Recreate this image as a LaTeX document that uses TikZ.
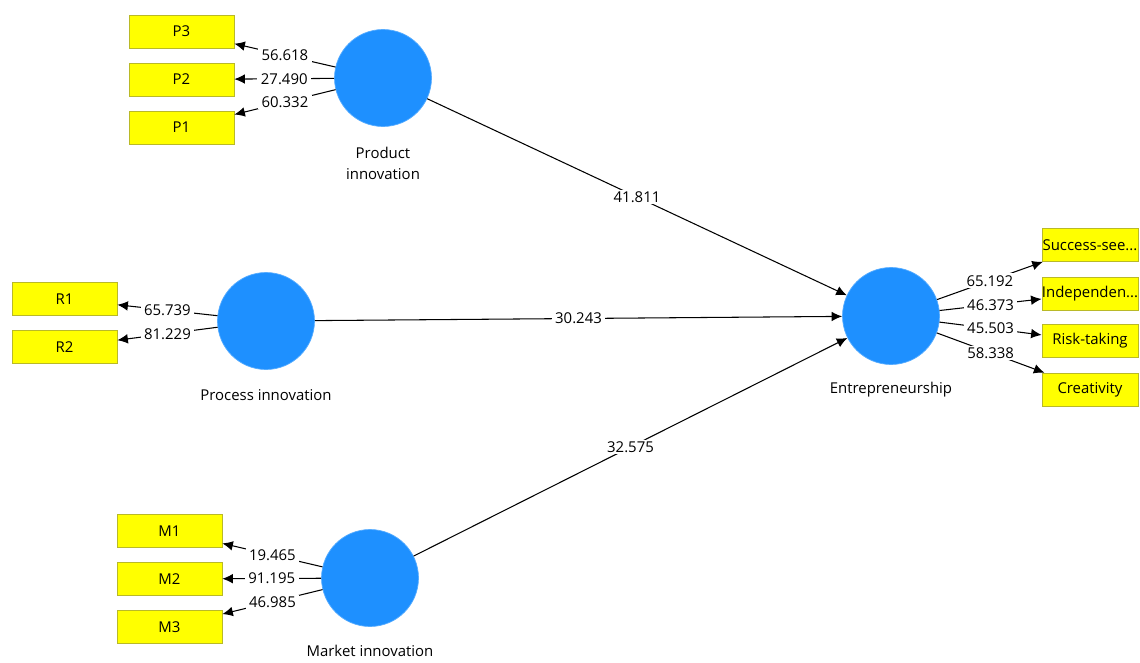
\documentclass[tikz,border=0pt]{standalone}
\usepackage{fontspec}
\setmainfont{Open Sans}
\usetikzlibrary{arrows.meta}
\definecolor{lvblue}{RGB}{30,144,255}
\definecolor{mvyellow}{RGB}{255,255,0}
\definecolor{mvedge}{RGB}{185,185,40}

\begin{document}
\begin{tikzpicture}[x=0.02cm,y=-0.02cm,
  font=\fontsize{8.5}{12}\selectfont,
  latent/.style={circle,fill=lvblue,draw=lvblue!75!white,minimum size=1.94cm,inner sep=0pt},
  item/.style={rectangle,fill=mvyellow,draw=mvedge,minimum width=2.1cm,minimum height=0.66cm,inner sep=0pt},
  itemr/.style={item,minimum width=1.92cm},
  load/.style={-{Latex[length=6pt,width=5.5pt]},line width=0.6pt},
  coef/.style={fill=white,inner xsep=2pt,inner ysep=1pt,midway}]
\useasboundingbox (0,0) rectangle (1140,663);

% latent variables
\node[latent] (prod) at (383,78) {};
\node[latent] (proc) at (266,321) {};
\node[latent] (mark) at (370,578) {};
\node[latent] (entr) at (891,316) {};

\node[align=center] (prodlbl) at (383,163) {Product\\innovation};
\node (proclbl) at (266,395) {Process innovation};
\node (marklbl) at (370,651) {Market innovation};
\node (entrlbl) at (891,390) {Entrepreneurship};

% indicators
\node[item] (p3) at (181.5,31.5) {P3};
\node[item] (p2) at (181.5,79.5) {P2};
\node[item] (p1) at (181.5,127.5) {P1};

\node[item] (r1) at (64.5,299) {R1};
\node[item] (r2) at (64.5,347) {R2};

\node[item] (m1) at (169.5,531) {M1};
\node[item] (m2) at (169.5,579) {M2};
\node[item] (m3) at (169.5,627) {M3};

\node[itemr] (e1) at (1090,245) {Success-see...};
\node[itemr] (e2) at (1090,293.5) {Independen...};
\node[itemr] (e3) at (1090,341) {Risk-taking};
\node[itemr] (e4) at (1090,389.5) {Creativity};

% outer model
\draw[load] (prod) -- node[coef] {56.618} (p3);
\draw[load] (prod) -- node[coef] {27.490} (p2);
\draw[load] (prod) -- node[coef] {60.332} (p1);

\draw[load] (proc) -- node[coef] {65.739} (r1);
\draw[load] (proc) -- node[coef] {81.229} (r2);

\draw[load] (mark) -- node[coef] {19.465} (m1);
\draw[load] (mark) -- node[coef] {91.195} (m2);
\draw[load] (mark) -- node[coef] {46.985} (m3);

\draw[load] (entr) -- node[coef] {65.192} (e1);
\draw[load] (entr) -- node[coef] {46.373} (e2);
\draw[load] (entr) -- node[coef] {45.503} (e3);
\draw[load] (entr) -- node[coef] {58.338} (e4);

% inner model
\draw[load] (prod) -- node[coef] {41.811} (entr);
\draw[load] (proc) -- node[coef] {30.243} (entr);
\draw[load] (mark) -- node[coef] {32.575} (entr);
\end{tikzpicture}
\end{document}
